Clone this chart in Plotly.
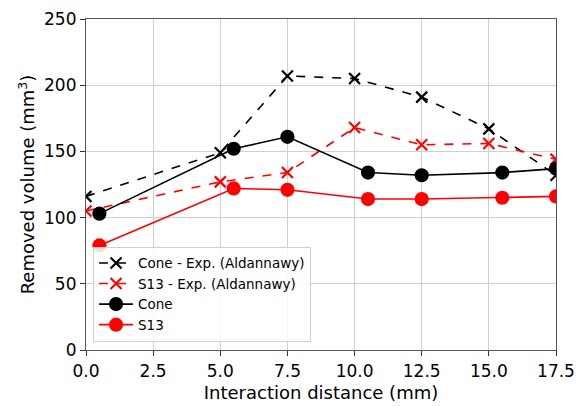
import plotly.graph_objects as go

# Interaction distance (mm)
x_exp = [0, 5, 7.5, 10, 12.5, 15, 17.5]
x_sim = [0.5, 5.5, 7.5, 10.5, 12.5, 15.5, 17.5]

# Removed volume (mm^3)
cone_exp = [116, 149, 207, 205, 191, 167, 132]
s13_exp = [105, 127, 134, 168, 155, 156, 144]
cone_sim = [103, 152, 161, 134, 132, 134, 137]
s13_sim = [79, 122, 121, 114, 114, 115, 116]

series = [
    ("Cone - Exp. (Aldannawy)", x_exp, cone_exp, "black", "dash", "x-thin"),
    ("S13 - Exp. (Aldannawy)", x_exp, s13_exp, "red", "dash", "x-thin"),
    ("Cone", x_sim, cone_sim, "black", "solid", "circle"),
    ("S13", x_sim, s13_sim, "red", "solid", "circle"),
]

fig = go.Figure()
for name, xs, ys, color, dash, symbol in series:
    fig.add_trace(go.Scatter(
        x=xs, y=ys, name=name, mode="lines+markers",
        line=dict(color=color, width=1.6, dash=dash),
        marker=dict(symbol=symbol, size=12 if symbol == "circle" else 11,
                    color=color, line=dict(color=color, width=2.2)),
    ))

axis_common = dict(
    showgrid=True, gridcolor="#d0d0d0", gridwidth=1,
    showline=True, linecolor="#555555", linewidth=1.2, mirror=True,
    ticks="outside", ticklen=5, tickcolor="#333333",
    tickfont=dict(family="DejaVu Sans", size=17, color="black"),
    zeroline=False, automargin=False,
)

fig.update_layout(
    width=576, height=406,
    margin=dict(l=86, r=20, t=19, b=56),
    paper_bgcolor="white", plot_bgcolor="white",
    font=dict(family="DejaVu Sans", color="black"),
    xaxis=dict(range=[0, 17.5], tickvals=[0, 2.5, 5, 7.5, 10, 12.5, 15, 17.5],
               ticktext=["0.0", "2.5", "5.0", "7.5", "10.0", "12.5", "15.0", "17.5"],
               title=dict(text="Interaction distance (mm)", font=dict(size=18), standoff=6),
               **axis_common),
    yaxis=dict(range=[0, 250], tickvals=[0, 50, 100, 150, 200, 250],
               title=dict(text="Removed volume (mm<sup>3</sup>)", font=dict(size=18), standoff=4),
               **axis_common),
    legend=dict(x=0.015, y=0.025, xanchor="left", yanchor="bottom",
                bgcolor="rgba(255,255,255,0.85)", bordercolor="#d0d0d0", borderwidth=1,
                font=dict(size=13.5, family="DejaVu Sans"), tracegroupgap=0,
                itemwidth=34),
    showlegend=True,
)

fig.write_html("out.html")
